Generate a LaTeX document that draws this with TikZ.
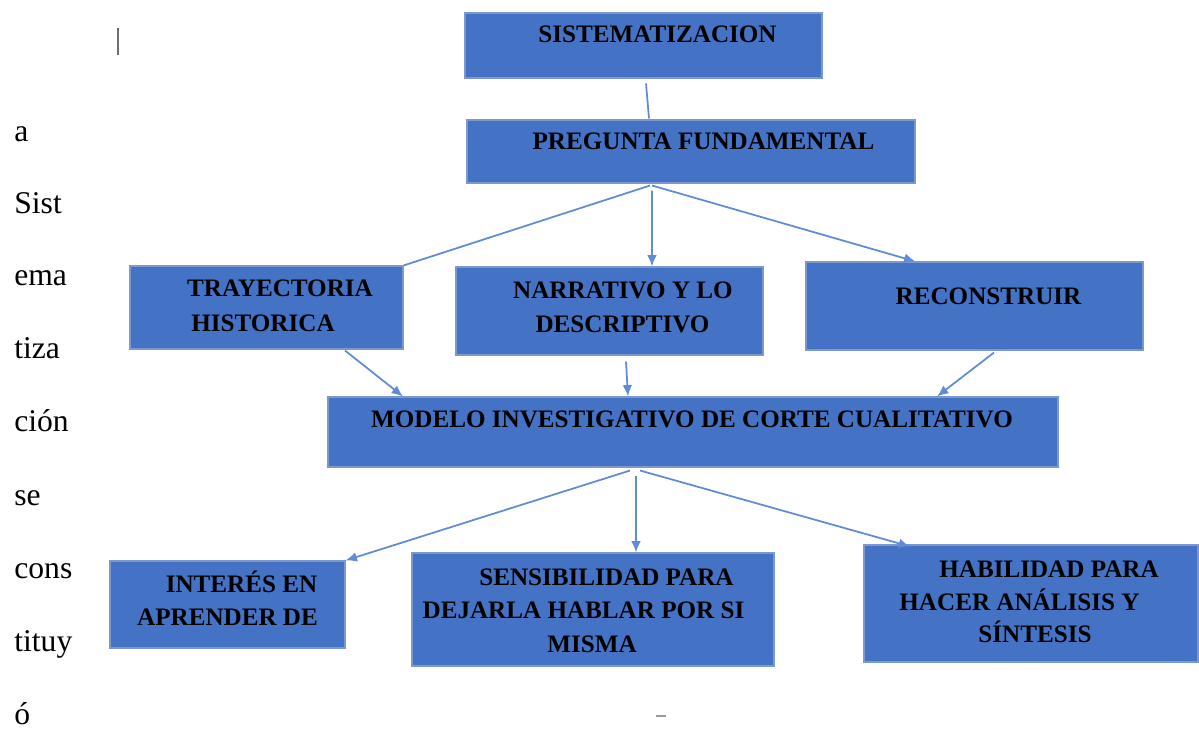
\documentclass[tikz,border=0pt]{standalone}
\usepackage{fontspec}
\setmainfont{Liberation Serif}
\usetikzlibrary{fit,calc,arrows.meta}
\definecolor{boxfill}{RGB}{68,114,196}
\definecolor{boxedge}{RGB}{125,152,205}
\definecolor{linkblue}{RGB}{95,140,212}
\definecolor{markgray}{RGB}{110,110,110}
\tikzset{
  box/.style={rectangle, fill=boxfill, draw=boxedge, line width=0.6pt, inner sep=0pt},
  lbl/.style={anchor=base, inner sep=0pt, text=black, font=\bfseries\fontsize{14.3}{17}\selectfont},
  side/.style={anchor=base west, inner sep=0pt, text=black, font=\fontsize{18}{22}\selectfont},
  conn/.style={draw=linkblue, line width=1pt},
  arr/.style={conn, -{Latex[length=6.5pt,width=5.5pt]}},
}
\begin{document}
\begin{tikzpicture}[x=0.02cm,y=-0.02cm]
\useasboundingbox (0,0) rectangle (1199,732);
% boxes
\node[box, fit={(465,13) (822,78)}] (sis) {};
\node[box, fit={(467,120) (915,183)}] (pf) {};
\node[box, fit={(130,266) (403,349)}] (tra) {};
\node[box, fit={(456,267) (763,355)}] (nar) {};
\node[box, fit={(806,262) (1143,350)}] (rec) {};
\node[box, fit={(328,397) (1058,467)}] (mod) {};
\node[box, fit={(110,561) (345,648)}] (int) {};
\node[box, fit={(412,553) (774,666)}] (sen) {};
\node[box, fit={(864,545) (1198,662)}] (hab) {};
% labels
\node[lbl] (tsis) at (657.5,43) {SISTEMATIZACION};
\node[lbl] (tpf) at (703.5,150) {PREGUNTA FUNDAMENTAL};
\node[lbl] (ttra1) at (280,297) {TRAYECTORIA};
\node[lbl] (ttra2) at (263,332) {HISTORICA};
\node[lbl] (tnar1) at (623,299) {NARRATIVO Y LO};
\node[lbl] (tnar2) at (622.5,333) {DESCRIPTIVO};
\node[lbl] (trec) at (988.5,305) {RECONSTRUIR};
\node[lbl] (tmod) at (692,428) {MODELO INVESTIGATIVO DE CORTE CUALITATIVO};
\node[lbl] (tint1) at (241.5,592) {INTERÉS EN};
\node[lbl] (tint2) at (227.5,625) {APRENDER DE};
\node[lbl] (tsen1) at (606.5,585) {SENSIBILIDAD PARA};
\node[lbl] (tsen2) at (583.5,618) {DEJARLA HABLAR POR SI};
\node[lbl] (tsen3) at (592,652) {MISMA};
\node[lbl] (thab1) at (1049,577) {HABILIDAD PARA};
\node[lbl] (thab2) at (1019.5,610) {HACER ANÁLISIS Y};
\node[lbl] (thab3) at (1035,642) {SÍNTESIS};
% connectors
\draw[conn] ($(sis.south)+(2.5,5)$) -- ($(pf.north)+(-42,-1)$);
\draw[conn] ($(pf.south)+(-41,2)$) -- (tra.north east);
\draw[arr] ($(pf.south)+(-39,7)$) -- ($(nar.north)+(42.5,0)$);
\draw[arr] ($(pf.south)+(-39,2)$) -- ($(rec.north)+(-59,0)$);
\draw[arr] ($(tra.south)+(78.5,1)$) -- ($(mod.north)+(-290,0)$);
\draw[arr] ($(nar.south)+(16.5,6)$) -- ($(mod.north)+(-65,0)$);
\draw[arr] ($(rec.south)+(19.5,2)$) -- ($(mod.north)+(244,0)$);
\draw[arr] ($(mod.south)+(-63,3)$) -- (int.north east);
\draw[arr] ($(mod.south)+(-57,8)$) -- ($(sen.north)+(43,0)$);
\draw[arr] ($(mod.south)+(-53,3)$) -- ($(hab.north)+(-121,2)$);
% side text
\foreach \w/\yy [count=\i] in {a/142, Sist/214, ema/286, tiza/359, ción/432, se/505, cons/578, tituy/651, ó/724}
  \node[side] (s\i) at (14,\yy) {\w};
% marks
\coordinate (barTop) at (118,28);
\coordinate (barBot) at (118,55);
\draw[markgray, line width=1.2pt] (barTop) -- (barBot);
\coordinate (dashL) at (656,716);
\coordinate (dashR) at (666,716);
\draw[markgray!70, line width=0.8pt] (dashL) -- (dashR);
\end{tikzpicture}
\end{document}
